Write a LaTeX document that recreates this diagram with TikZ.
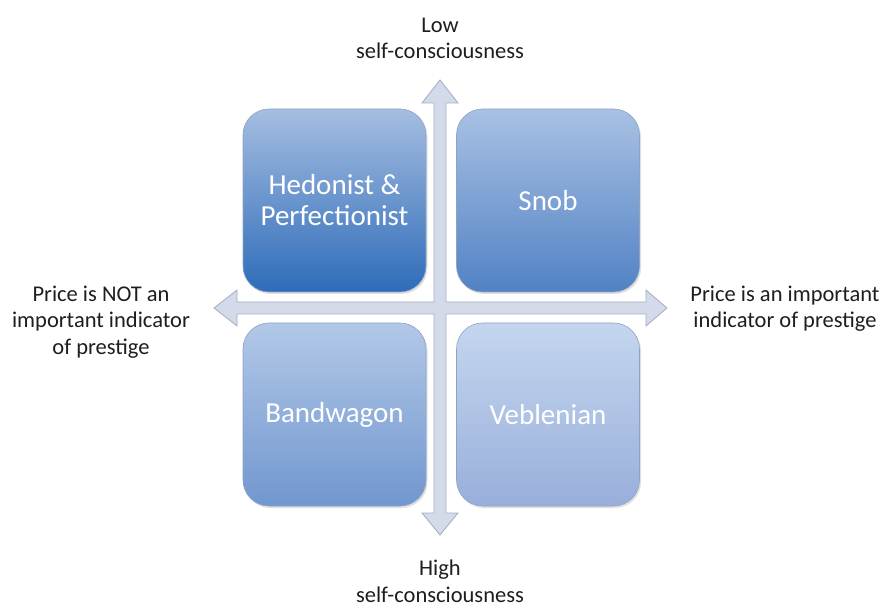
\documentclass[tikz,border=0pt]{standalone}
\usepackage{fontspec}
\setmainfont{Carlito}
\usetikzlibrary{shadows}
\definecolor{arrowfill}{HTML}{D3DBEA}
\definecolor{arrowdraw}{HTML}{A3ACC0}
\definecolor{boxdraw}{HTML}{8EA2C6}
\definecolor{txt}{HTML}{1E1E1E}
\tikzset{
  quad/.style={rounded corners=26pt, minimum width=183pt, minimum height=183pt,
    draw=boxdraw, line width=0.6pt, text=white, align=center,
    font=\fontsize{29}{31}\selectfont, inner sep=0pt,
    drop shadow={shadow xshift=1.5pt, shadow yshift=-2pt, opacity=0.25}},
  lab/.style={text=txt, align=center, font=\fontsize{22.5}{26.5}\selectfont, inner sep=0pt}
}
\begin{document}
\begin{tikzpicture}[x=1pt,y=-1pt]
\useasboundingbox (0,0) rectangle (883,609);
% cross-shaped double arrow
\path[fill=arrowfill, draw=arrowdraw, line width=0.8pt, line join=miter]
  (434,103) -- (422,103) -- (440,80) -- (458,103) -- (446,103) -- (446,302)
  -- (646,302) -- (646,290) -- (667,308) -- (646,326) -- (646,314) -- (446,314)
  -- (446,513) -- (458,513) -- (440,535) -- (422,513) -- (434,513) -- (434,314)
  -- (237,314) -- (237,326) -- (214,308) -- (237,290) -- (237,302) -- (434,302) -- cycle;
% quadrants
\node[quad, top color={rgb,255:red,165;green,189;blue,225}, bottom color={rgb,255:red,46;green,108;blue,185}] (hp) at (334.5,200.5) {Hedonist \&\\Perfectionist};
\node[quad, top color={rgb,255:red,168;green,193;blue,228}, bottom color={rgb,255:red,82;green,130;blue,196}] (sn) at (548,200.5) {Snob};
\node[quad, top color={rgb,255:red,178;green,200;blue,232}, bottom color={rgb,255:red,113;green,151;blue,207}] (bw) at (334.5,414.5) {Bandwagon};
\node[quad, top color={rgb,255:red,196;green,214;blue,238}, bottom color={rgb,255:red,153;green,175;blue,219}] (vb) at (548,414.5) {Veblenian};
% labels
\node[lab] (low) at (440,38.5) {Low\\self-consciousness};
\node[lab] (high) at (440,581.5) {High\\self-consciousness};
\node[lab] (left) at (101,322) {Price is NOT an\\important indicator\\of prestige};
\node[lab] (right) at (785,308.5) {Price is an important\\indicator of prestige};
\end{tikzpicture}
\end{document}
